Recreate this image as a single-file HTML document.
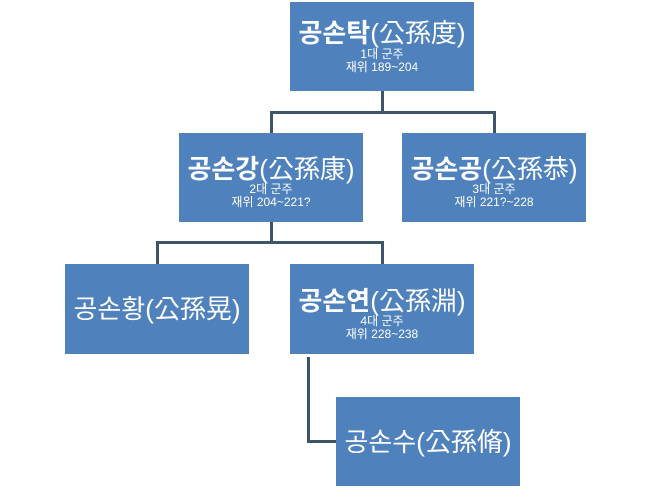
<!DOCTYPE html>
<html><head><meta charset="utf-8"><style>
body{margin:0;width:650px;height:488px;background:#fff;position:relative;overflow:hidden;font-family:"Liberation Sans","Noto Sans CJK KR","NanumGothic",sans-serif}
.b{position:absolute;width:184px;height:89px;background:#4f81bd;color:#fff;display:flex;flex-direction:column;justify-content:center;align-items:center;text-align:center;line-height:1}
.t{font-size:26px;white-space:nowrap}
.t b{font-weight:bold}
.s{font-size:12px;line-height:13px}
.l{position:absolute;background:#3f5468}
</style></head><body>
<div class="l" style="left:381px;top:90px;width:3px;height:23px"></div>
<div class="l" style="left:270px;top:111px;width:226px;height:3px"></div>
<div class="l" style="left:270px;top:111px;width:3px;height:22px"></div>
<div class="l" style="left:493px;top:111px;width:3px;height:22px"></div>
<div class="l" style="left:270px;top:222px;width:3px;height:21px"></div>
<div class="l" style="left:156px;top:241px;width:228px;height:3px"></div>
<div class="l" style="left:156px;top:241px;width:3px;height:23px"></div>
<div class="l" style="left:381px;top:241px;width:3px;height:23px"></div>
<div class="l" style="left:307px;top:357px;width:3px;height:86px"></div>
<div class="l" style="left:307px;top:440px;width:30px;height:3px"></div>

<div class="b" style="left:290px;top:2px"><div class="t"><b>공손탁</b>(公孫度)</div><div class="s" style="margin-top:2px">1대 군주</div><div class="s">재위 189~204</div></div>
<div class="b" style="left:179px;top:133px"><div class="t" style="margin-top:10px"><b>공손강</b>(公孫康)</div><div class="s" style="margin-top:1px">2대 군주</div><div class="s">재위 204~221?</div></div>
<div class="b" style="left:402px;top:133px"><div class="t" style="margin-top:10px"><b>공손공</b>(公孫恭)</div><div class="s" style="margin-top:1px">3대 군주</div><div class="s">재위 221?~228</div></div>
<div class="b" style="left:65px;top:264px;height:90px"><div class="t">공손황(公孫晃)</div></div>
<div class="b" style="left:290px;top:264px;height:90px"><div class="t" style="margin-top:10px"><b>공손연</b>(公孫淵)</div><div class="s" style="margin-top:1px">4대 군주</div><div class="s">재위 228~238</div></div>
<div class="b" style="left:336px;top:397px;height:89px"><div class="t">공손수(公孫脩)</div></div>
</body></html>
